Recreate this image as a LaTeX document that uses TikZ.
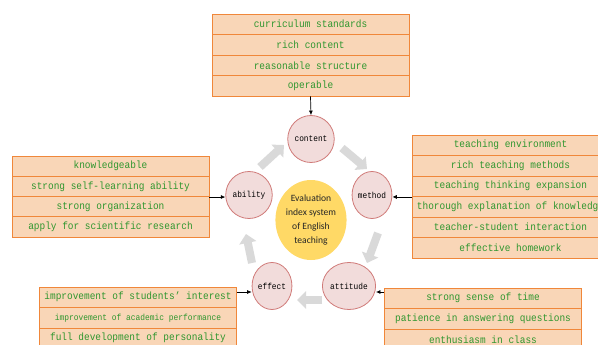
\documentclass[tikz,border=0pt]{standalone}
\usepackage{fontspec}
\newfontfamily\boxfont[FakeStretch=0.9]{Liberation Mono}
\newfontfamily\capfont{Carlito}
\usetikzlibrary{shapes.geometric,arrows.meta}
\definecolor{boxfill}{HTML}{F9D6B7}
\definecolor{boxline}{HTML}{F0873A}
\definecolor{boxtext}{HTML}{2E962E}
\definecolor{ellfill}{HTML}{F2DCDB}
\definecolor{ellline}{HTML}{D07A78}
\definecolor{hubfill}{HTML}{FFD966}
\definecolor{cyclegray}{HTML}{D9D9D9}
\begin{document}
\begin{tikzpicture}[x=1pt,y=-1pt,
  rowbox/.style={draw=boxline, fill=boxfill, line width=0.9pt, minimum width=197pt,
    minimum height=20.5pt, inner sep=0pt, text=boxtext,
    font=\boxfont\fontsize{10.5}{12}\selectfont},
  smallrow/.style={font=\boxfont\fontsize{8.8}{10}\selectfont},
  element/.style={ellipse, draw=ellline, fill=ellfill, line width=0.8pt,
    minimum width=39pt, minimum height=47pt, inner sep=0pt,
    font=\boxfont\fontsize{8.7}{10}\selectfont},
  hub/.style={ellipse, fill=hubfill, minimum width=67pt, minimum height=80pt,
    inner sep=0pt, align=center, text=black!85,
    font=\capfont\fontsize{9.6}{14}\selectfont},
  link/.style={-{Latex[length=4.5pt,width=4pt]}, line width=0.7pt, black},
  cycle/.style={cyclegray, line width=8pt, -{Triangle[width=17pt,length=9pt]}}
]
\useasboundingbox (0,0) rectangle (598,345);
\clip (0,0) rectangle (598,345);
\fill[white] (0,0) rectangle (598,345);

% content box
\node[rowbox] (c1) at (310.5,24.25) {curriculum standards};
\node[rowbox] (c2) at (310.5,44.75) {rich content};
\node[rowbox] (c3) at (310.5,65.25) {reasonable structure};
\node[rowbox] (c4) at (310.5,85.75) {operable};

% ability box
\node[rowbox, minimum height=20.3pt] (a1) at (110.5,166.15) {knowledgeable};
\node[rowbox, minimum height=20.3pt] (a2) at (110.5,186.45) {strong self-learning ability};
\node[rowbox, minimum height=20.3pt] (a3) at (110.5,206.75) {strong organization};
\node[rowbox, minimum height=20.3pt] (a4) at (110.5,227.05) {apply for scientific research};

% method box
\node[rowbox] (m1) at (510.5,145.25) {teaching environment};
\node[rowbox] (m2) at (510.5,165.75) {rich teaching methods};
\node[rowbox] (m3) at (510.5,186.25) {teaching thinking expansion};
\node[rowbox] (m4) at (510.5,206.75) {thorough explanation of knowledge};
\node[rowbox] (m5) at (510.5,227.25) {teacher-student interaction};
\node[rowbox] (m6) at (510.5,247.75) {effective homework};

% attitude box
\node[rowbox] (t1) at (483,298.25) {strong sense of time};
\node[rowbox] (t2) at (483,318.75) {patience in answering questions};
\node[rowbox] (t3) at (483,339.25) {enthusiasm in class};

% effect box
\node[rowbox] (e1) at (138,297.25) {improvement of students’ interest};
\node[rowbox, smallrow] (e2) at (138,317.75) {improvement of academic performance};
\node[rowbox] (e3) at (138,338.25) {full development of personality};

% elements
\node[element] (content) at (311,139) {content};
\node[element] (method) at (372,195) {method};
\node[element] (attitude) at (349,286) {attitude};
\node[element] (effect) at (272,286) {effect};
\node[element] (ability) at (249,195) {ability};
\node[hub] (hub) at (311,220) {Evaluation\\index system\\of English\\teaching};

% links from boxes
\draw[link] (c4.south) -- (content.north);
\draw[link] (a2.south east) -- (a2.south east -| ability.west);
\draw[link] (m3.south west) -- (m3.south west -| method.east);
\coordinate (ta) at (384,292);
\draw[link] (ta) -- (ta -| attitude.east);
\coordinate (ea) at (237,292);
\draw[link] (ea) -- (ea -| effect.west);

% cycle arrows
\coordinate (g1s) at (260,167); \coordinate (g1e) at (284,145);
\coordinate (g2s) at (342,148); \coordinate (g2e) at (367,169);
\coordinate (g3s) at (378,233); \coordinate (g3e) at (367,263);
\coordinate (g4s) at (322,300); \coordinate (g4e) at (297,300);
\coordinate (g5s) at (252,263); \coordinate (g5e) at (246,234);
\draw[cycle] (g1s) -- (g1e);
\draw[cycle] (g2s) -- (g2e);
\draw[cycle] (g3s) -- (g3e);
\draw[cycle] (g4s) -- (g4e);
\draw[cycle] (g5s) -- (g5e);
\end{tikzpicture}
\end{document}
